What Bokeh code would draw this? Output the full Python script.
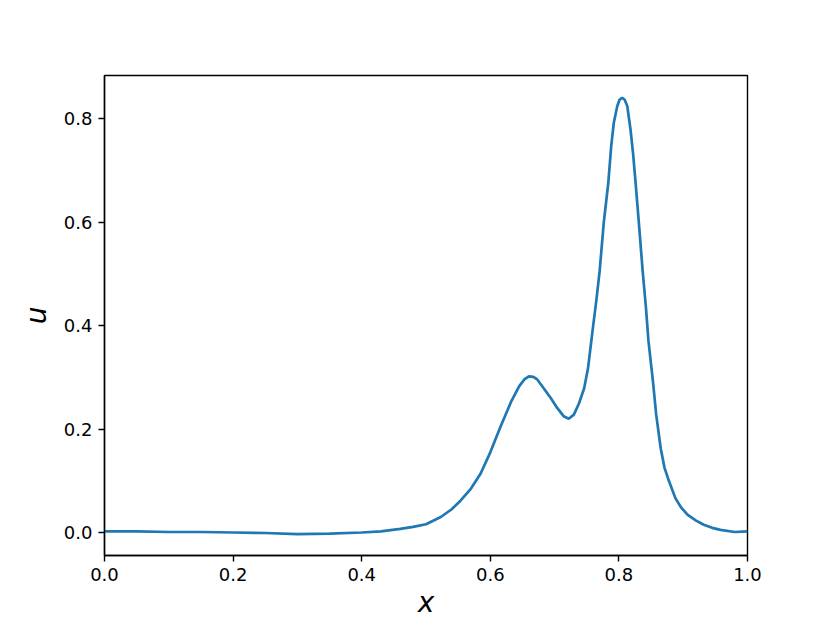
from bokeh.plotting import figure
from bokeh.models import Range1d, FixedTicker, PrintfTickFormatter
from bokeh.embed import file_html
from bokeh.resources import INLINE

x_vals = [0.0, 0.05, 0.1, 0.15, 0.2, 0.25, 0.3, 0.35, 0.4, 0.43, 0.46, 0.48,
          0.5, 0.523, 0.54, 0.554, 0.57, 0.585, 0.60, 0.616, 0.632, 0.645,
          0.653, 0.660, 0.667, 0.673, 0.683, 0.694, 0.704, 0.714, 0.722,
          0.730, 0.738, 0.746, 0.752, 0.759, 0.765, 0.77, 0.7765, 0.7835,
          0.788, 0.792, 0.7975, 0.801, 0.805, 0.809, 0.813, 0.818, 0.822,
          0.826, 0.831, 0.837, 0.842, 0.846, 0.853, 0.858, 0.865, 0.871,
          0.878, 0.888, 0.897, 0.907, 0.92, 0.932, 0.945, 0.958, 0.98, 1.0]
u_vals = [0.002, 0.002, 0.001, 0.001, 0.0, -0.001, -0.003, -0.002, 0.0, 0.002,
          0.007, 0.011, 0.016, 0.03, 0.045, 0.062, 0.085, 0.114, 0.155, 0.205,
          0.252, 0.283, 0.296, 0.302, 0.301, 0.296, 0.279, 0.260, 0.241,
          0.225, 0.220, 0.228, 0.250, 0.279, 0.318, 0.39, 0.45, 0.505, 0.60,
          0.676, 0.747, 0.792, 0.825, 0.837, 0.841, 0.837, 0.825, 0.780,
          0.734, 0.676, 0.60, 0.505, 0.436, 0.37, 0.292, 0.228, 0.163, 0.125,
          0.099, 0.066, 0.048, 0.034, 0.023, 0.015, 0.009, 0.005, 0.001, 0.002]

x_ticks = [0.0, 0.2, 0.4, 0.6, 0.8, 1.0]
y_ticks = [0.0, 0.2, 0.4, 0.6, 0.8]

p = figure(width=830, height=623, output_backend="svg", toolbar_location=None,
           x_range=Range1d(0, 1), y_range=Range1d(-0.0445, 0.884),
           min_border_left=104, min_border_right=83, min_border_top=75,
           min_border_bottom=68)

p.line(x_vals, u_vals, line_color="#1f77b4", line_width=2.7)

p.grid.visible = False
p.outline_line_color = "black"
p.outline_line_width = 1.4
p.background_fill_color = "white"
p.border_fill_color = "white"

for ax in (p.xaxis[0], p.yaxis[0]):
    ax.axis_line_width = 1.4
    ax.axis_line_color = "black"
    ax.major_tick_line_width = 1.4
    ax.major_tick_line_color = "black"
    ax.major_tick_out = 6
    ax.major_tick_in = 0
    ax.minor_tick_line_color = None
    ax.major_label_standoff = 6
    ax.major_label_text_font = "DejaVu Sans"
    ax.major_label_text_font_size = "18px"
    ax.major_label_text_color = "black"
    ax.axis_label_text_font = "DejaVu Sans"
    ax.axis_label_text_font_style = "italic"
    ax.axis_label_text_font_size = "28px"
    ax.axis_label_text_color = "black"
    ax.formatter = PrintfTickFormatter(format="%.1f")

p.xaxis[0].ticker = FixedTicker(ticks=x_ticks)
p.yaxis[0].ticker = FixedTicker(ticks=y_ticks)
p.xaxis[0].axis_label = "x"
p.yaxis[0].axis_label = "u"
p.xaxis[0].axis_label_standoff = 2
p.yaxis[0].axis_label_standoff = 8

open("out.html", "w").write(file_html(p, INLINE))
